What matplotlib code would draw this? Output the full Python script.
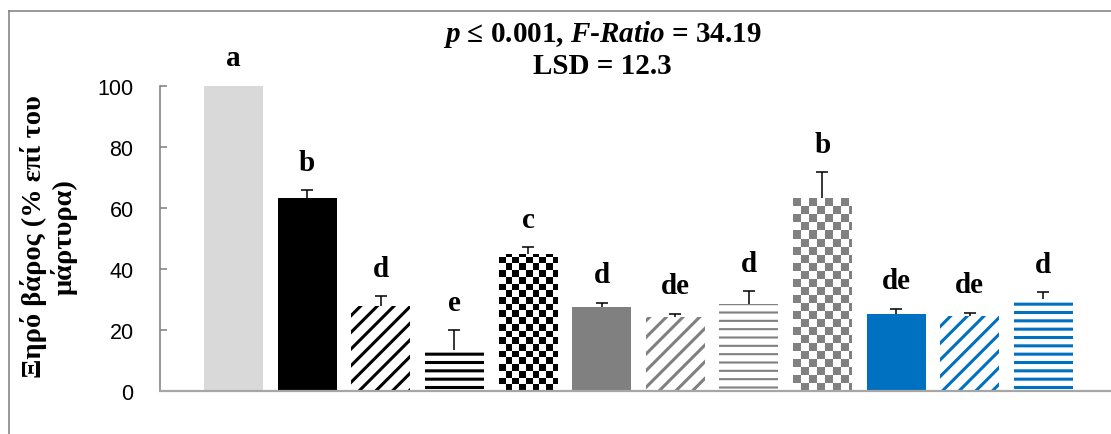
import matplotlib
matplotlib.use("Agg")
import matplotlib.pyplot as plt
import numpy as np
from matplotlib.lines import Line2D

# ── data ────────────────────────────────────────────────────────────────────
values = [100.0, 63.2, 27.8, 13.4, 44.8, 27.5, 24.2, 28.5, 63.4, 25.2, 24.5, 30.1]
errors = [0.3, 2.7, 3.3, 6.6, 2.3, 1.4, 1.1, 4.2, 8.3, 1.8, 1.2, 2.3]
letters = ["a", "b", "d", "e", "c", "d", "de", "d", "b", "de", "de", "d"]
yticks = [0, 20, 40, 60, 80, 100]

ylabel = "Ξηρό βάρος (% επί του\nμάρτυρα)"
title_1 = r"$p$ ≤ 0.001, $F$-$Ratio$ = 34.19"
title_2 = "LSD = 12.3"

# fill style per bar: (kind, colour)
LGRAY, BLACK, GRAY, BLUE = "#D9D9D9", "#000000", "#808080", "#0070C0"
styles = [("solid", LGRAY), ("solid", BLACK), ("diag", BLACK), ("horiz", BLACK),
          ("check", BLACK), ("solid", GRAY), ("diag", GRAY), ("horiz", GRAY),
          ("check", GRAY), ("solid", BLUE), ("diag", BLUE), ("horiz", BLUE)]
CHECK_PX = {BLACK: 6.7, GRAY: 8.0}

plt.rcParams["mathtext.fontset"] = "custom"
plt.rcParams["mathtext.it"] = "Liberation Serif:italic:bold"
plt.rcParams["mathtext.rm"] = "Liberation Serif:bold"
plt.rcParams["hatch.linewidth"] = 2.2

W, H = 1111, 435
fig = plt.figure(figsize=(W / 100, H / 100), dpi=100)
ax = fig.add_axes([160 / W, 1 - 392 / H, 1 - 160 / W, (392 - 87) / H])

x = np.arange(len(values))
xlim = (-1.0, 11.92)
ylim = (0, 100)

bars = []
for xi, v, (kind, col) in zip(x, values, styles):
    if kind == "solid":
        b = ax.bar(xi, v, width=0.8, color=col, linewidth=0)[0]
    elif kind == "diag":
        b = ax.bar(xi, v, width=0.8, facecolor="white", edgecolor=col,
                   hatch="//", linewidth=0)[0]
    elif kind == "horiz":
        b = ax.bar(xi, v, width=0.8, facecolor="white", edgecolor=col,
                   hatch="--", linewidth=0)[0]
        if col == GRAY and hasattr(b, "set_hatch_linewidth"):
            b.set_hatch_linewidth(1.5)
    else:
        b = ax.bar(xi, v, width=0.8, facecolor="white", linewidth=0)[0]
    bars.append(b)

ax.set_xlim(*xlim)
ax.set_ylim(*ylim)

# checkerboard fills drawn as clipped images over the bar rectangles
for b, (kind, col) in zip(bars, styles):
    if kind != "check":
        continue
    x0, w, h = b.get_x(), b.get_width(), b.get_height()
    (px0, py0), (px1, py1) = ax.transData.transform([(x0, 0), (x0 + w, h)])
    sq = CHECK_PX[col]
    nx = int(np.ceil((px1 - px0) / sq))
    ny = int(np.ceil((py1 - py0) / sq))
    grid = (np.add.outer(np.arange(ny), np.arange(nx)) % 2).astype(bool)
    rgb = np.ones((ny, nx, 3))
    rgb[grid] = matplotlib.colors.to_rgb(col)
    top = ny * sq / (py1 - py0) * h
    right = x0 + nx * sq / (px1 - px0) * w
    im = ax.imshow(rgb, extent=(x0, right, 0, top), origin="lower",
                   interpolation="nearest", aspect="auto", zorder=2)
    im.set_clip_path(b)

ax.set_xlim(*xlim)
ax.set_ylim(*ylim)

# plus-only error bars (hide the cap sitting on the bar top)
_, caps, _ = ax.errorbar(x, values, yerr=[np.zeros(len(errors)), errors], fmt="none",
                         ecolor="black", elinewidth=1.1, capsize=4, capthick=1.1,
                         zorder=4)
for c in caps:
    if np.allclose(c.get_ydata(), values):
        c.set_visible(False)

for xi, v, e, lab in zip(x, values, errors, letters):
    ax.text(xi, v + e + 6.7, lab, ha="center", va="baseline", fontsize=21,
            fontweight="bold", family="Liberation Serif", clip_on=False)

for s in ["top", "right"]:
    ax.spines[s].set_visible(False)
ax.spines["left"].set_color("#868686")
ax.spines["left"].set_linewidth(1.2)
ax.spines["bottom"].set_color("#A6A6A6")
ax.spines["bottom"].set_linewidth(1.6)
ax.set_xticks([])
ax.set_yticks(yticks)
ax.tick_params(axis="y", direction="in", length=5, width=1.2, color="#868686",
               pad=19, labelsize=15.5)
for t in ax.get_yticklabels():
    t.set_family("Liberation Sans")

fig.text(49 / W, 1 - 237 / H, ylabel, rotation=90, ha="center", va="center",
         multialignment="center", fontsize=20.5, fontweight="bold",
         family="Liberation Serif", linespacing=1.2)
fig.text(602 / W, 1 - 35 / H, title_1, ha="center", va="center", fontsize=21,
         fontweight="bold", family="Liberation Serif")
fig.text(602 / W, 1 - 67 / H, title_2, ha="center", va="center", fontsize=21,
         fontweight="bold", family="Liberation Serif")

# outer chart-area border (only left and top visible in the crop)
fig.add_artist(Line2D([9 / W, 9 / W], [0, 1 - 12 / H], transform=fig.transFigure,
                      color="#868686", lw=1.2))
fig.add_artist(Line2D([9 / W, 1], [1 - 12 / H, 1 - 12 / H], transform=fig.transFigure,
                      color="#868686", lw=1.2))

fig.savefig("out.png", dpi=100)
